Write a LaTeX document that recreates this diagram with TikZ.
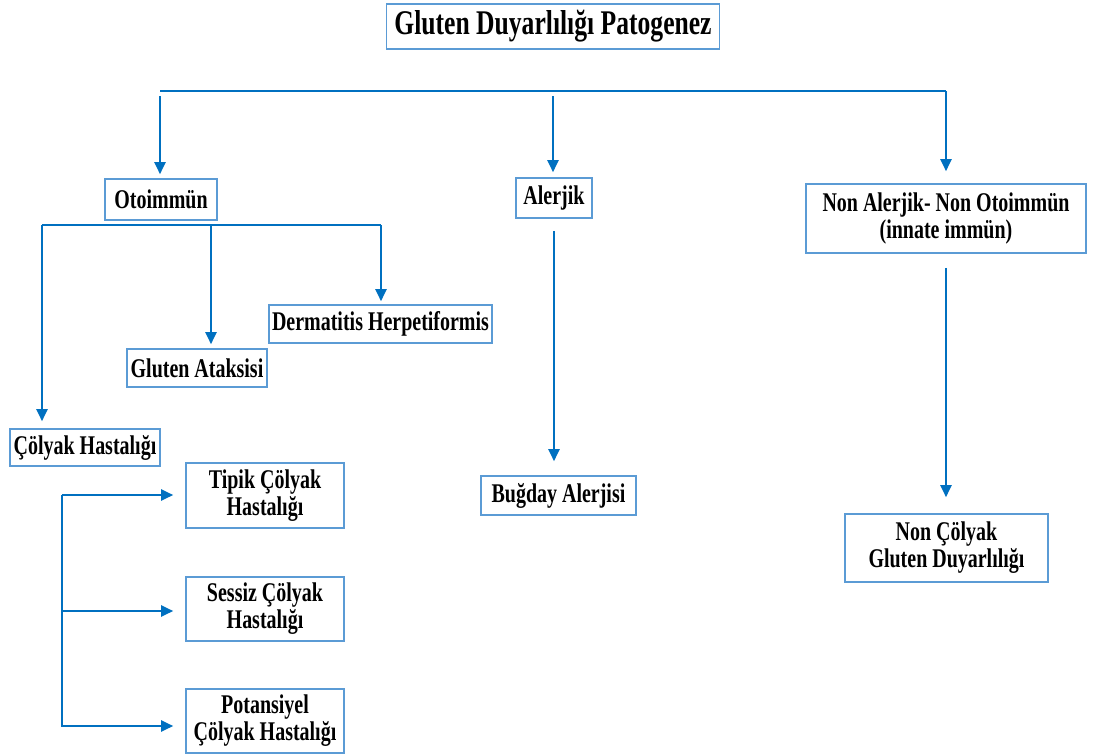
\documentclass[tikz,border=0pt]{standalone}
\usepackage{fontspec}
\setmainfont[FakeStretch=0.74]{Liberation Serif}
\usetikzlibrary{arrows.meta}
\definecolor{linkblue}{HTML}{0070C0}
\definecolor{boxblue}{HTML}{5B9BD5}

\begin{document}
\begin{tikzpicture}[
            x=0.5pt, y=-0.5pt,
            box/.style={rectangle, draw=boxblue, line width=0.8pt, inner sep=0pt, align=center,
                font=\bfseries\fontsize{13.5}{13.5}\selectfont},
            link/.style={draw=linkblue, line width=1pt},
            arr/.style={link, -{Triangle[length=6pt,width=5.5pt]}}
        ]
        \useasboundingbox (0,0) rectangle (1094,756);

        \node[box, minimum width=166.5pt, minimum height=22.5pt, font=\bfseries\fontsize{17.3}{18}\selectfont] (title) at (553,26.5) {Gluten Duyarlılığı Patogenez};

        \node[box, minimum width=56pt, minimum height=20.5pt] (oto) at (161,199.5) {Otoimmün};
        \node[box, minimum width=38pt, minimum height=20pt] (aler) at (554,198) {Alerjik};
        \node[box, minimum width=140pt, minimum height=34.5pt] (nonaler) at (946,218.5) {Non Alerjik- Non Otoimmün\\(innate immün)};

        \node[box, minimum width=111.5pt, minimum height=19pt] (derm) at (380.5,324) {Dermatitis Herpetiformis};
        \node[box, minimum width=70pt, minimum height=19pt] (atak) at (197,368) {Gluten Ataksisi};
        \node[box, minimum width=75pt, minimum height=18.5pt] (colyak) at (85,447.5) {Çölyak Hastalığı};

        \node[box, minimum width=79pt, minimum height=32.5pt] (tipik) at (265,495.5) {Tipik Çölyak\\Hastalığı};
        \node[box, minimum width=79pt, minimum height=32pt] (sessiz) at (265,609) {Sessiz Çölyak\\Hastalığı};
        \node[box, minimum width=79pt, minimum height=32pt] (potan) at (265,721) {Potansiyel\\Çölyak Hastalığı};

        \node[box, minimum width=77.5pt, minimum height=19.5pt] (bugday) at (558.5,495.5) {Buğday Alerjisi};
        \node[box, minimum width=101.5pt, minimum height=34pt] (noncol) at (946.5,548) {Non Çölyak\\Gluten Duyarlılığı};

        % top level
        \coordinate (tl) at (160,91);
        \coordinate (tr) at (946,91);
        \coordinate (ta) at (160,96);
        \coordinate (tb) at (553,96);
        \draw[link] (tl) -- (tr);
        \draw[arr, shorten >=2pt] (ta) -- (ta |- oto.north);
        \draw[arr, shorten >=2.5pt] (tb) -- (tb |- aler.north);
        \draw[arr, shorten >=6pt] (tr) -- (tr |- nonaler.north);

        % otoimmun branch
        \coordinate (oa) at (42,225);
        \coordinate (ob) at (211,225);
        \coordinate (oc) at (381,225);
        \draw[link] (oa) -- (oc);
        \draw[arr, shorten >=3.5pt] (oa) -- (oa |- colyak.north);
        \draw[arr, shorten >=2pt] (ob) -- (ob |- atak.north);
        \draw[arr, shorten >=1.5pt] (oc) -- (oc |- derm.north);

        % colyak types
        \coordinate (ca) at (62,495);
        \coordinate (cb) at (62,727);
        \draw[link] (ca) -- (cb);
        \draw[arr, shorten >=6pt] (ca) -- (ca -| tipik.west);
        \draw[arr, shorten >=6pt] (62,611) coordinate (cc) -- (cc -| sessiz.west);
        \draw[arr, shorten >=6pt] (62,726) coordinate (cd) -- (cd -| potan.west);

        % alerjik, non alerjik
        \draw[arr, shorten <=6pt, shorten >=7pt] (aler.south) -- (aler.south |- bugday.north);
        \draw[arr, shorten <=7pt, shorten >=8pt] (nonaler.south) -- (nonaler.south |- noncol.north);

    \end{tikzpicture}
\end{document}
